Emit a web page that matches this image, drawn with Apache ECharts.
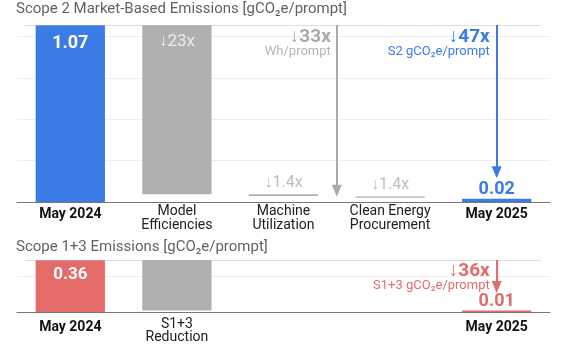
<!DOCTYPE html>
<html><head><meta charset="utf-8">
<script src="https://cdn.jsdelivr.net/npm/echarts@6/dist/echarts.min.js"></script>
<style>html,body{margin:0;padding:0;background:#fff}#c{width:570px;height:357px}</style>
</head><body><div id="c"></div>
<script>
// ---- data ----
const categories = ['May 2024', 'Model\nEfficiencies', 'Machine\nUtilization', 'Clean Energy\nProcurement', 'May 2025'];
const s2Low  = [0, 0.047, 0.036, 0.026, 0];
const s2High = [1.07, 1.07, 0.047, 0.034, 0.02];
const s2Labels = ['1.07', '↓23x', '↓1.4x', '↓1.4x', '0.02'];
const s2Max = 1.07;

const s13Categories = ['May 2024', 'S1+3\nReduction', '', '', 'May 2025'];
const s13Low  = [0, 0.01, null, null, 0];
const s13High = [0.36, 0.36, null, null, 0.01];
const s13Labels = ['0.36', '', '', '', '0.01'];
const s13Max = 0.36;

const s2NoteBig = ['↓33x', '↓47x'];
const s2NoteSmall = ['Wh/prompt', 'S2 gCO₂e/prompt'];
const s13NoteBig = ['↓36x'];
const s13NoteSmall = ['S1+3 gCO₂e/prompt'];

// ---- styles ----
const BLUE = '#3a7be6', GRAY = '#b0b0b0', RED = '#e56b69', FONT = 'Roboto';

function xLabel(margin) {
  return {
    interval: 0, margin: margin, color: '#202124', fontSize: 14, lineHeight: 13.5, fontFamily: FONT,
    formatter: v => v.indexOf('May') === 0 ? '{b|' + v + '}' : v,
    rich: { b: { fontWeight: 'bold', fontSize: 14, lineHeight: 19, color: '#111', fontFamily: FONT } }
  };
}
function yAx(grid, max) {
  return { gridIndex: grid, type: 'value', min: 0, max: max, interval: 0.25,
    axisLabel: { show: false }, axisLine: { show: false }, axisTick: { show: false },
    splitLine: { show: true, showMaxLine: false, lineStyle: { color: '#eeeeee', width: 1 } } };
}

const s2Colors = [BLUE, GRAY, GRAY, GRAY, BLUE];
const s2LabelStyle = [
  { position: 'insideTop', distance: 9, color: '#ffffff', fontSize: 18, fontWeight: 'bold' },
  { position: 'insideTop', distance: 8, color: '#ececec', fontSize: 17, fontWeight: 'normal' },
  { position: 'top', distance: 3, color: '#bdbdbd', fontSize: 16, fontWeight: 'normal' },
  { position: 'top', distance: 3, color: '#bdbdbd', fontSize: 16, fontWeight: 'normal' },
  { position: 'top', distance: 0, color: BLUE, fontSize: 18, fontWeight: 'bold' }
];
const s13Colors = [RED, GRAY, GRAY, GRAY, RED];
const s13LabelStyle = [
  { position: 'insideTop', distance: 6, color: '#ffffff', fontSize: 17, fontWeight: 'bold' },
  { show: false }, { show: false }, { show: false },
  { position: 'top', distance: 0, color: RED, fontSize: 18, fontWeight: 'bold' }
];

function visData(low, high, labels, colors, styles) {
  return high.map((h, i) => h == null ? null : ({
    value: h - low[i],
    itemStyle: { color: colors[i] },
    label: Object.assign({ show: !!labels[i], formatter: labels[i], fontFamily: FONT }, styles[i])
  }));
}

function notePoint(x, y, big, small, colBig, colSmall, dx, dy) {
  return {
    coord: [x, y],
    label: {
      show: true, position: 'inside', align: 'right', verticalAlign: 'top', offset: [dx, dy],
      formatter: '{b|' + big + '}\n{s|' + small + '}',
      rich: {
        b: { color: colBig, fontSize: 19, fontWeight: 'bold', lineHeight: 18, align: 'right', fontFamily: FONT },
        s: { color: colSmall, fontSize: 13, lineHeight: 12, align: 'right', fontFamily: FONT }
      }
    }
  };
}
function arrow(x, yFrom, yTo, color) {
  return [
    { coord: [x, yFrom], symbol: 'none', lineStyle: { color: color, width: 2, type: 'solid' } },
    { coord: [x, yTo], symbol: 'triangle', symbolSize: [10, 12] }
  ];
}
function dotted(max) {
  return [
    { coord: [-0.42, max], symbol: 'none', lineStyle: { color: '#bbbbbb', width: 1, type: 'dotted' } },
    { coord: [4.42, max], symbol: 'none' }
  ];
}

const option = {
  animation: false,
  textStyle: { fontFamily: FONT },
  title: [
    { text: 'Scope 2 Market-Based Emissions [gCO₂e/prompt]', left: 16, top: 2, padding: 0,
      textStyle: { fontSize: 15, fontWeight: 'normal', color: '#5f6368', fontFamily: FONT } },
    { text: 'Scope 1+3 Emissions [gCO₂e/prompt]', left: 16, top: 240, padding: 0,
      textStyle: { fontSize: 15, fontWeight: 'normal', color: '#5f6368', fontFamily: FONT } }
  ],
  grid: [
    { left: 17, right: 20, top: 25, bottom: 155 },
    { left: 17, right: 20, top: 260, bottom: 45 }
  ],
  xAxis: [
    { gridIndex: 0, type: 'category', data: categories,
      axisLine: { lineStyle: { color: '#777', width: 1.2 } }, axisTick: { show: false }, axisLabel: xLabel(3) },
    { gridIndex: 0, type: 'value', min: -0.5, max: 4.5, show: false },
    { gridIndex: 1, type: 'category', data: s13Categories,
      axisLine: { lineStyle: { color: '#777', width: 1.2 } }, axisTick: { show: false }, axisLabel: xLabel(5.5) },
    { gridIndex: 1, type: 'value', min: -0.5, max: 4.5, show: false }
  ],
  yAxis: [ yAx(0, s2Max), yAx(1, s13Max) ],
  series: [
    { type: 'bar', xAxisIndex: 0, yAxisIndex: 0, stack: 's2', data: s2Low, barWidth: '65%', silent: true,
      itemStyle: { color: 'transparent' } },
    { type: 'bar', xAxisIndex: 0, yAxisIndex: 0, stack: 's2', barWidth: '65%',
      data: visData(s2Low, s2High, s2Labels, s2Colors, s2LabelStyle) },
    { type: 'bar', xAxisIndex: 2, yAxisIndex: 1, stack: 's13', data: s13Low, barWidth: '65%', silent: true,
      itemStyle: { color: 'transparent' } },
    { type: 'bar', xAxisIndex: 2, yAxisIndex: 1, stack: 's13', barWidth: '65%',
      data: visData(s13Low, s13High, s13Labels, s13Colors, s13LabelStyle) },
    { type: 'scatter', xAxisIndex: 1, yAxisIndex: 0, data: [], silent: true,
      markLine: { silent: true, animation: false, label: { show: false },
        data: [ dotted(s2Max), arrow(2.5, s2Max, 0.068, '#aaaaaa'), arrow(4, s2Max, 0.18, BLUE) ] },
      markPoint: { silent: true, animation: false, symbol: 'circle', symbolSize: 1, itemStyle: { color: 'transparent' },
        data: [
          notePoint(2.5, s2Max, s2NoteBig[0], s2NoteSmall[0], '#aaaaaa', '#b5b5b5', -6, 3),
          notePoint(4, s2Max, s2NoteBig[1], s2NoteSmall[1], BLUE, BLUE, -7, 3)
        ] } },
    { type: 'scatter', xAxisIndex: 3, yAxisIndex: 1, data: [], silent: true,
      markLine: { silent: true, animation: false, label: { show: false },
        data: [ dotted(s13Max), arrow(4, s13Max, 0.173, RED) ] },
      markPoint: { silent: true, animation: false, symbol: 'circle', symbolSize: 1, itemStyle: { color: 'transparent' },
        data: [ notePoint(4, s13Max, s13NoteBig[0], s13NoteSmall[0], RED, RED, -7, 2) ] } }
  ]
};
const chart = echarts.init(document.getElementById('c'), null, { renderer: 'canvas' });
chart.setOption(option);
</script>
</body></html>
